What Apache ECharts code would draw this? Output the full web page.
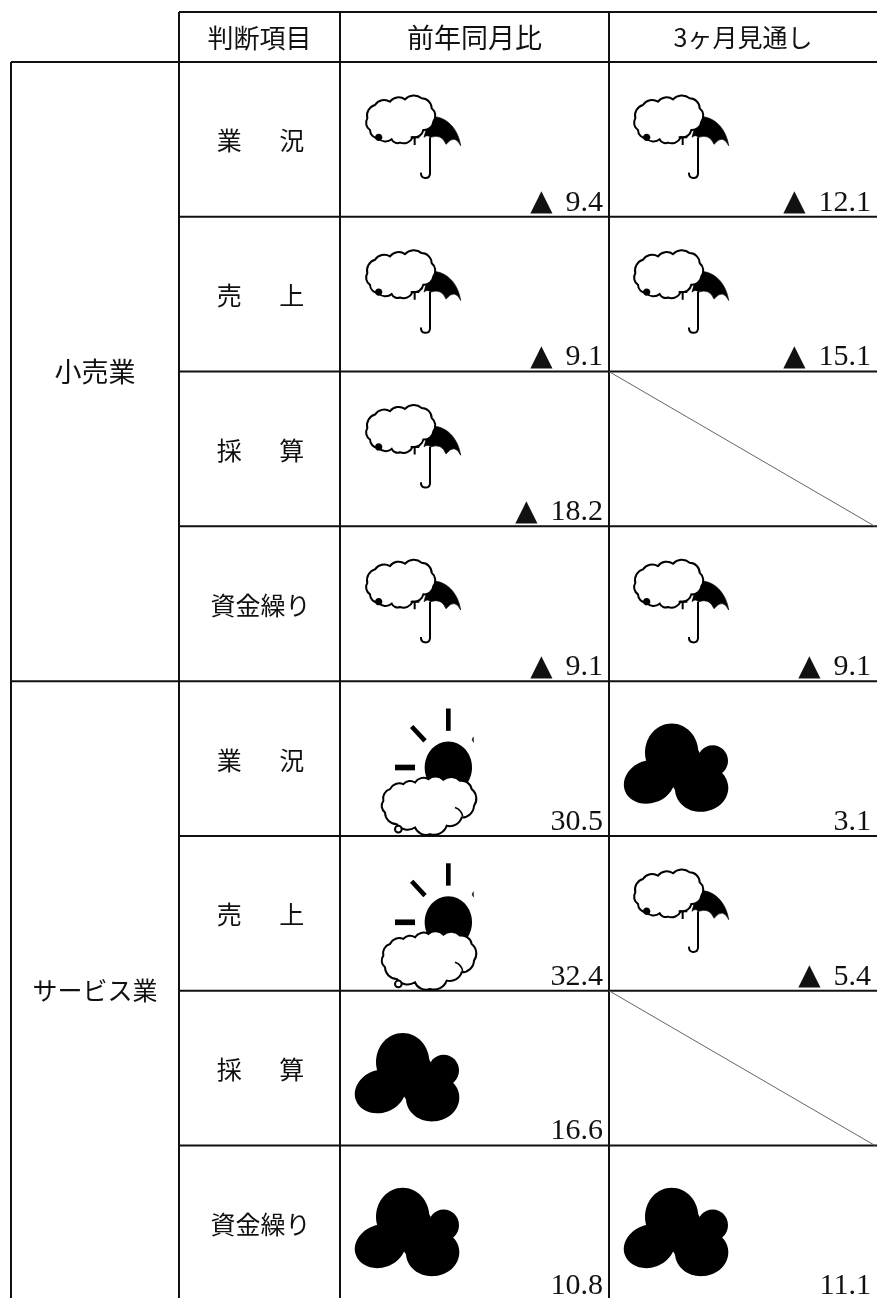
<!DOCTYPE html>
<html>
<head>
<meta charset="utf-8">
<style>html,body{margin:0;padding:0;background:#fff}#chart{width:877px;height:1298px}</style>
<script src="https://cdn.jsdelivr.net/npm/echarts@6/dist/echarts.min.js"></script>
</head>
<body>
<div id="chart"></div>
<script>
// 表のデータ
const headers = ["判断項目", "前年同月比", "3ヶ月見通し"];
const industries = ["小売業", "サービス業"];
const items = ["業　\u2002況", "売　\u2002上", "採　\u2002算", "資金繰り", "業　\u2002況", "売　\u2002上", "採　\u2002算", "資金繰り"];
const yoyValues = [-9.4, -9.1, -18.2, -9.1, 30.5, 32.4, 16.6, 10.8];
const outlookValues = [-12.1, -15.1, null, -9.1, 3.1, -5.4, null, 11.1];
const yoyIcons = ["rain", "rain", "rain", "rain", "sun", "sun", "cloud", "cloud"];
const outlookIcons = ["rain", "rain", null, "rain", "cloud", "rain", null, "cloud"];

// 列の境界 (x軸の値)
const colEdges = [11, 179, 340, 609, 877];
const INK = "#111";
const TEXT_FONT = '"Noto Sans CJK JP", sans-serif';

// もこもこした雲の輪郭
function scallop(pts) {
    let d = "M" + pts[0].join(" ");
    for (let i = 1; i <= pts.length; i++) {
        const p = pts[i % pts.length], q = pts[i - 1];
        const r = Math.hypot(p[0] - q[0], p[1] - q[1]) * 0.72;
        d += ` A${r} ${r} 0 0 1 ${p[0]} ${p[1]}`;
    }
    return d + "Z";
}

const blob = (cx, cy, rx, ry, rotation) => ({
    type: "ellipse",
    shape: { cx: 0, cy: 0, rx, ry },
    x: cx, y: cy, rotation: rotation || 0,
    style: { fill: "#000" }
});
const pathEl = (d, fill, lineW) => ({
    type: "path",
    shape: { pathData: d },
    style: { fill: fill, stroke: "#000", lineWidth: lineW }
});

const rainCloud = scallop([[105,165],[150,155],[195,148],[245,145],[275,175],[280,215],[250,240],[218,262],[180,278],[155,268],[115,265],[90,240],[82,205]]);
const sunCloud = scallop([[150,300],[190,285],[225,280],[265,270],[310,272],[360,275],[395,300],[402,350],[365,385],[320,410],[270,435],[225,415],[170,405],[135,370],[130,335]]);

function iconChildren(kind) {
    if (kind === "rain") {
        return [
            pathEl("M252 262 Q262 215 285 200 C325 205 355 240 362 287 Q345 250 318 283 Q305 250 272 262 Q262 252 252 262Z", "#000", 2),
            pathEl("M270 262 L270 372 Q268 385 255 384 Q242 383 243 368", "none", 6),
            pathEl(rainCloud, "#fff", 6),
            pathEl("M224 262 L224 285 M212 262 L238 262", "none", 6),
            blob(116, 262, 11, 11)
        ];
    }
    if (kind === "sun") {
        return [
            blob(325, 235, 71, 78),
            pathEl("M325 58 L325 125", "none", 14),
            pathEl("M215 112 L255 155", "none", 14),
            pathEl("M165 235 L225 235", "none", 17),
            pathEl("M400 143 L396 152 L401 160Z", "#000", 1),
            pathEl(sunCloud, "#fff", 6),
            pathEl("M345 355 Q365 362 368 382", "none", 5),
            { type: "circle", shape: { cx: 175, cy: 420, r: 10 }, style: { fill: "#fff", stroke: "#000", lineWidth: 6 } }
        ];
    }
    return [
        blob(245, 190, 80, 87),
        blob(178, 278, 78, 64, 0.35),
        blob(335, 298, 80, 70, 0.1),
        blob(368, 215, 46, 47),
        blob(288, 240, 58, 112, 0.35)
    ];
}

// アイコンの基準位置 (セル左上からのずれ)
const iconOffset = { rain: [0, -12], sun: [0, 8], cloud: [-19, 8] };

function drawIcon(api, kind, col, row) {
    const origin = api.coord([colEdges[col], row]);
    const off = iconOffset[kind];
    const shiftX = kind === "rain" && col === 3 ? -1 : 0;
    return {
        type: "group",
        x: origin[0] + off[0] + shiftX,
        y: origin[1] + off[1],
        scaleX: 1 / 3,
        scaleY: 1 / 3,
        children: iconChildren(kind)
    };
}

function valueLabel(api, v, col, row) {
    const p = api.coord([colEdges[col + 1], row + 1]);
    const num = Math.abs(v).toFixed(1);
    return {
        type: "text",
        x: p[0] - 6,
        y: p[1] + 1,
        style: {
            text: v < 0 ? `{t|▲}{n|${num}}` : `{n|${num}}`,
            align: "right",
            verticalAlign: "bottom",
            rich: {
                t: { fontFamily: "DejaVu Sans", fontSize: 29, fill: INK, color: INK, padding: [0, 13, 0, 0] },
                n: { fontFamily: "Liberation Serif", fontSize: 30, fill: INK, color: INK }
            }
        }
    };
}

function centerText(p, text, size) {
    return {
        type: "text", x: p[0], y: p[1],
        style: { text, font: size + "px " + TEXT_FONT, fill: INK, textAlign: "center", textVerticalAlign: "middle" }
    };
}

function hv(api, x1, y1, x2, y2, w) {
    const a = api.coord([x1, y1]), b = api.coord([x2, y2]);
    return { type: "line", shape: { x1: a[0], y1: a[1], x2: b[0], y2: b[1] }, style: { stroke: INK, lineWidth: w } };
}

const rowIndex = items.map((_, i) => [i]);
const baseSeries = { type: "custom", coordinateSystem: "cartesian2d", silent: true, clip: false, animation: false };
const HEAD_TOP = -0.323;
const HEAD_CENTER = -0.157;

const option = {
    animation: false,
    backgroundColor: "#fff",
    grid: { left: 0, right: 0, top: 12, bottom: 0 },
    xAxis: { type: "value", min: 0, max: 877, show: false },
    yAxis: { type: "value", min: HEAD_TOP, max: 7.985, inverse: true, show: false },
    series: [
        // 罫線
        {
            ...baseSeries,
            data: [[0]],
            renderItem: (params, api) => {
                const ch = [];
                const xEnd = colEdges[4];
                ch.push(hv(api, colEdges[1], HEAD_TOP, xEnd, HEAD_TOP, 2));
                ch.push(hv(api, colEdges[0], 0, xEnd, 0, 2));
                for (let r = 1; r < 8; r++) {
                    ch.push(hv(api, r === 4 ? colEdges[0] : colEdges[1], r, xEnd, r, 2));
                }
                ch.push(hv(api, colEdges[0], 0, colEdges[0], 8, 2));
                ch.push(hv(api, colEdges[1], HEAD_TOP, colEdges[1], 8, 2));
                ch.push(hv(api, colEdges[2], HEAD_TOP, colEdges[2], 8, 2));
                ch.push(hv(api, colEdges[3], HEAD_TOP, colEdges[3], 8, 2));
                outlookValues.forEach((v, r) => {
                    if (v === null) {
                        const d = hv(api, colEdges[3], r, xEnd - 2, r + 1, 1);
                        d.style.stroke = "#666";
                        ch.push(d);
                    }
                });
                return { type: "group", children: ch };
            }
        },
        // 見出し
        {
            ...baseSeries,
            data: headers.map((_, i) => [i]),
            renderItem: (params, api) => {
                const i = params.dataIndex;
                const p = api.coord([(colEdges[i + 1] + colEdges[i + 2]) / 2, HEAD_CENTER]);
                return centerText(p, headers[i], [26, 27, 25][i]);
            }
        },
        // 業種
        {
            ...baseSeries,
            data: industries.map((_, i) => [i]),
            renderItem: (params, api) => {
                const i = params.dataIndex;
                const p = api.coord([(colEdges[0] + colEdges[1]) / 2, i * 4 + 2]);
                return centerText(p, industries[i], [27, 25][i]);
            }
        },
        // 判断項目
        {
            ...baseSeries,
            data: rowIndex,
            renderItem: (params, api) => {
                const i = params.dataIndex;
                const p = api.coord([(colEdges[1] + colEdges[2]) / 2 + 1, i + 0.51]);
                return centerText(p, items[i], 25);
            }
        },
        // 前年同月比
        {
            ...baseSeries,
            data: rowIndex,
            renderItem: (params, api) => {
                const i = params.dataIndex;
                return {
                    type: "group",
                    children: [drawIcon(api, yoyIcons[i], 2, i), valueLabel(api, yoyValues[i], 2, i)]
                };
            }
        },
        // 3ヶ月見通し
        {
            ...baseSeries,
            data: rowIndex,
            renderItem: (params, api) => {
                const i = params.dataIndex;
                if (outlookValues[i] === null) return { type: "group", children: [] };
                return {
                    type: "group",
                    children: [drawIcon(api, outlookIcons[i], 3, i), valueLabel(api, outlookValues[i], 3, i)]
                };
            }
        }
    ]
};

const chart = echarts.init(document.getElementById("chart"));
chart.setOption(option);
</script>
</body>
</html>
